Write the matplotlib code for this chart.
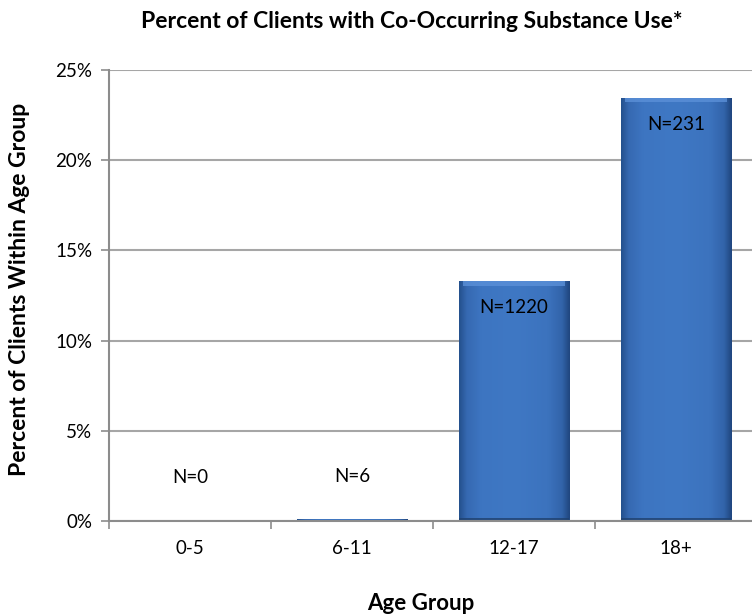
import numpy as np
import matplotlib
matplotlib.use("Agg")
import matplotlib.pyplot as plt
from matplotlib.colors import LinearSegmentedColormap

plt.rcParams['font.family'] = ['Lato', 'DejaVu Sans']

age_groups = ["0-5", "6-11", "12-17", "18+"]
percent = [0.0, 0.1, 13.3, 23.45]
counts = [0, 6, 1220, 231]
y_ticks = [0, 5, 10, 15, 20, 25]

W, H = 752, 616
fig = plt.figure(figsize=(W / 100, H / 100), dpi=100)
ax = fig.add_axes([109 / W, 1 - 521 / H, 648 / W, 451 / H])

x = np.arange(len(age_groups))
bars = ax.bar(x, percent, width=0.68, color="#3c73bf", edgecolor="none", zorder=2)

# horizontal shading across each bar: flat middle, darker rims
shade = LinearSegmentedColormap.from_list(
    "shade",
    [(0.0, "#24508c"), (0.07, "#3669b2"), (0.2, "#3d75c1"), (0.5, "#3f78c4"),
     (0.8, "#3c73be"), (0.93, "#3264aa"), (1.0, "#1f467e")])
grad = np.linspace(0, 1, 256).reshape(1, -1)
for b in bars:
    if b.get_height() <= 0:
        continue
    x0, w, h = b.get_x(), b.get_width(), b.get_height()
    im = ax.imshow(grad, cmap=shade, aspect="auto", extent=(x0, x0 + w, 0, h),
                   zorder=2.1, interpolation="bicubic")
    im.set_clip_path(b)
    if h > 1:
        # bevelled top edge
        ax.fill_between([x0 + w * 0.04, x0 + w * 0.96], h - 0.25, h,
                        color="#5b90d8", alpha=0.8, zorder=2.2, linewidth=0)
        # darker foot of the bar
        ax.fill_between([x0, x0 + w], 0, 0.15,
                        color="#1f416f", alpha=0.8, zorder=2.2, linewidth=0)

ax.set_xlim(-0.5, len(age_groups) - 0.5)
ax.set_ylim(0, 25)
ax.set_yticks(y_ticks)
ax.set_yticklabels([f"{v}%" for v in y_ticks], fontsize=13.5)
ax.set_xticks(x)
ax.set_xticklabels(age_groups, fontsize=13.5)
ax.set_xticks(np.arange(len(age_groups) + 1) - 0.5, minor=True)
ax.tick_params(axis="x", which="major", length=0, pad=14)
ax.tick_params(axis="x", which="minor", length=6, color="#8c8c8c", width=1.2)
ax.tick_params(axis="y", length=6, color="#8c8c8c", width=1.2, pad=6)

ax.grid(axis="y", color="#a6a6a6", linewidth=1.5, zorder=0)
ax.set_axisbelow(True)
for side in ["top", "right"]:
    ax.spines[side].set_visible(False)
for side in ["left", "bottom"]:
    ax.spines[side].set_color("#8c8c8c")
    ax.spines[side].set_linewidth(1.5)
    ax.spines[side].set_zorder(3)

for xi, p, n in zip(x, percent, counts):
    offset = -19 if p > 5 else 31
    ax.annotate(f"N={n}", (xi, p), xytext=(0, offset), textcoords="offset points",
                ha="center", va="center", fontsize=13.5, zorder=4)

fig.text(412 / W, 1 - 21 / H, "Percent of Clients with Co-Occurring Substance Use*",
         ha="center", va="center", fontsize=16.5, fontweight="bold")
fig.text(421 / W, 1 - 603 / H, "Age Group", ha="center", va="center",
         fontsize=16, fontweight="bold")
fig.text(20 / W, 1 - 289 / H, "Percent of Clients Within Age Group", ha="center",
         va="center", rotation=90, fontsize=16.5, fontweight="bold")

fig.savefig("out.png", dpi=100)
